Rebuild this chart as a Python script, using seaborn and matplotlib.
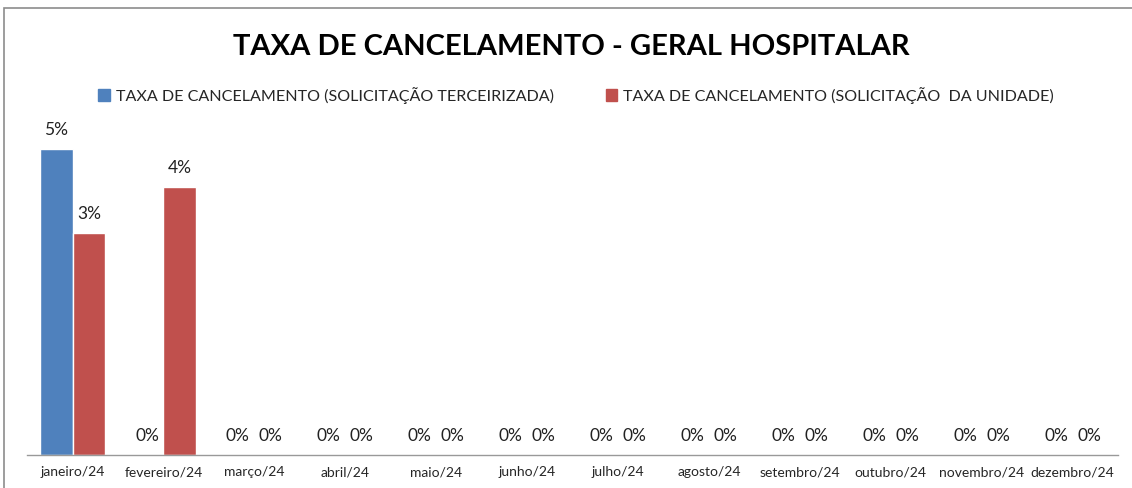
import pandas as pd
import numpy as np
import seaborn as sns
import matplotlib.pyplot as plt
from matplotlib.patches import Rectangle

meses = ['janeiro/24', 'fevereiro/24', 'março/24', 'abril/24', 'maio/24', 'junho/24',
         'julho/24', 'agosto/24', 'setembro/24', 'outubro/24', 'novembro/24', 'dezembro/24']
terceirizada = [0.046, 0.0, 0.0, 0.0, 0.0, 0.0, 0.0, 0.0, 0.0, 0.0, 0.0, 0.0]
unidade = [0.0334, 0.0403, 0.0, 0.0, 0.0, 0.0, 0.0, 0.0, 0.0, 0.0, 0.0, 0.0]
serie_terc = 'TAXA DE CANCELAMENTO (SOLICITAÇÃO TERCEIRIZADA)'
serie_unid = 'TAXA DE CANCELAMENTO (SOLICITAÇÃO  DA UNIDADE)'
cores = ['#4F81BD', '#C0504D']

df = pd.DataFrame({
    'mes': meses * 2,
    'taxa': terceirizada + unidade,
    'serie': [serie_terc] * len(meses) + [serie_unid] * len(meses),
})

sns.set_style('white')
plt.rcParams['font.family'] = ['Lato', 'DejaVu Sans']

fig = plt.figure(figsize=(11.32, 4.88), dpi=100)
ax = fig.add_axes([0.0239, 0.0676, 0.9637, 0.686])

sns.barplot(data=df, x='mes', y='taxa', hue='serie', palette=cores, width=0.725,
            saturation=1, ax=ax, legend=False)

ax.set_ylim(0, 0.0504)
ax.set_xlim(-0.5, len(meses) - 0.5)
ax.set_xlabel('')
ax.set_ylabel('')
ax.set_yticks([])
ax.tick_params(axis='x', length=0, labelsize=10, pad=8)
for s in ['top', 'left', 'right']:
    ax.spines[s].set_visible(False)
ax.spines['bottom'].set_color('#999999')
ax.spines['bottom'].set_linewidth(1)

for cont in ax.containers:
    for bar in cont:
        h = bar.get_height()
        ax.annotate(f'{h * 100:.0f}%', (bar.get_x() + bar.get_width() / 2, h),
                    xytext=(0, 8), textcoords='offset points', ha='center', va='bottom',
                    fontsize=12.5, color='#222222')

fig.text(0.505, 0.904, 'TAXA DE CANCELAMENTO - GERAL HOSPITALAR', ha='center', va='center',
         fontsize=21, fontweight='bold', color='black')

handles = [Rectangle((0, 0), 1, 1, color=c) for c in cores]
fig.legend(handles, [serie_terc, serie_unid], loc='center', bbox_to_anchor=(0.509, 0.805),
           ncol=2, frameon=False, fontsize=11.6, handlelength=0.7, handleheight=0.7,
           handletextpad=0.4, columnspacing=3.2)

# moldura do gráfico
fig.patches.append(Rectangle((4 / 1132, -0.1), 1.2, 480 / 488 + 0.1,
                             transform=fig.transFigure, fill=False, edgecolor='#8c8c8c',
                             linewidth=1.2))

fig.savefig('out.png', dpi=100)
